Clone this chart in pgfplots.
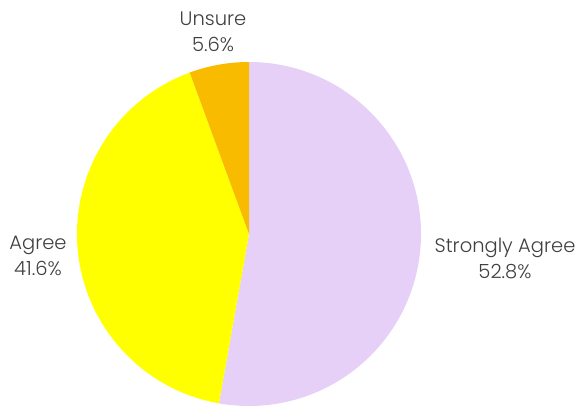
\documentclass[border=0pt]{standalone}
\usepackage{pgfplots}
\usepackage{pgfplotstable}
\pgfplotsset{compat=1.18}
\usepackage{fontspec}
\setmainfont{Poppins}[UprightFont=* Light]
\definecolor{sa}{HTML}{E6D0F8}
\definecolor{ag}{HTML}{FFFF00}
\definecolor{un}{HTML}{F8BB00}
\definecolor{txt}{HTML}{404040}
\pgfplotstableread[col sep=comma]{
label,value,lx,ly
Strongly Agree,52.8,505,147
Agree,41.6,38,149
Unsure,5.6,213,373
}\piedata
\begin{document}
\begin{tikzpicture}
\begin{axis}[
  scale only axis, width=580pt, height=405pt,
  xmin=0, xmax=580, ymin=0, ymax=405,
  hide axis, clip=false,
]
\addplot[draw=none] coordinates {(0,0) (580,405)};
\pgfplotsextra{%
  \gdef\pieStart{90}%
  \foreach \i/\c in {0/sa,1/ag,2/un}{%
    \pgfplotstablegetelem{\i}{value}\of\piedata
    \let\val\pgfplotsretval
    \pgfmathsetmacro\pieEnd{\pieStart-3.6*\val}%
    \fill[\c] (axis cs:249,171) -- ([shift={(\pieStart:172pt)}]axis cs:249,171)
      arc[start angle=\pieStart, end angle=\pieEnd, radius=172pt] -- cycle;
    \pgfplotstablegetelem{\i}{label}\of\piedata
    \let\lab\pgfplotsretval
    \pgfplotstablegetelem{\i}{lx}\of\piedata
    \let\lx\pgfplotsretval
    \pgfplotstablegetelem{\i}{ly}\of\piedata
    \let\ly\pgfplotsretval
    \node[align=center, text=txt, font=\fontsize{19.5}{26}\selectfont, inner sep=0pt]
      at (axis cs:\lx,\ly) {\lab\\\val\%};
    \xdef\pieStart{\pieEnd}%
  }%
}
\end{axis}
\end{tikzpicture}
\end{document}
